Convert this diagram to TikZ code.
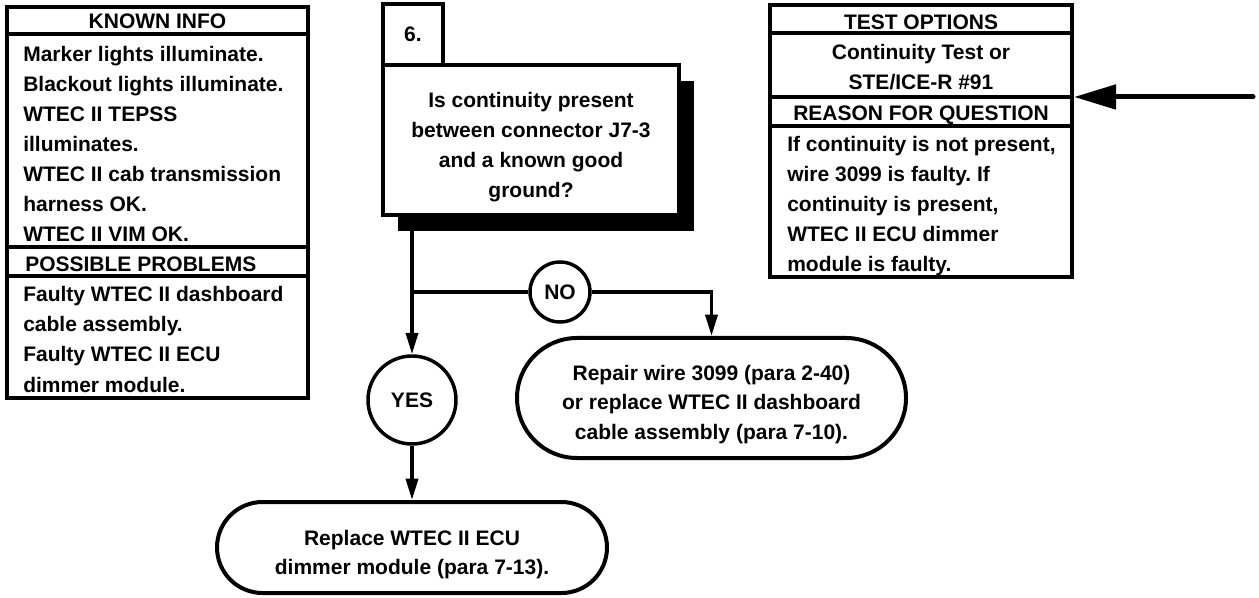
\documentclass[tikz,border=0pt]{standalone}
\usepackage{fontspec}
\setmainfont{Liberation Sans}
\usetikzlibrary{arrows.meta,shapes.misc,shadows}
\frenchspacing
\begin{document}
\begin{tikzpicture}[x=0.75pt,y=-0.75pt,
  every node/.style={font=\bfseries\fontsize{15.75pt}{22.5pt}\selectfont, inner sep=0pt},
  frame/.style={line width=3pt},
  infobox/.style={draw, line width=3pt, rectangle},
  txl/.style={anchor=base west},
  txc/.style={anchor=base},
  flow/.style={line width=2.6pt},
  arr/.style={flow, -{Triangle[length=16pt,width=9pt]}},
  qbox/.style={draw, line width=3pt, fill=white, outer sep=0pt, minimum width=222pt, minimum height=112.5pt,
     drop shadow={shadow xshift=11.25pt, shadow yshift=-12pt, fill=black, opacity=1}},
  numbox/.style={draw, line width=3pt, fill=white, outer sep=0pt, minimum width=45pt, minimum height=45.75pt},
  answer/.style={draw, circle, line width=2.6pt},
  outcome/.style={draw, rounded rectangle, line width=3pt},
  bigarrow/.style={line width=3.75pt, line cap=round, -{Triangle[length=31.5pt,width=18pt]}}
]
\useasboundingbox (0,0) rectangle (1259,598);

% ---------- left info box ----------
\node[infobox, minimum width=225.75pt, minimum height=293.25pt] (kbox) at (157.5,202.5) {};
\draw[frame] (kbox.west |- 0,34) -- (kbox.east |- 0,34);
\draw[frame] (kbox.west |- 0,247) -- (kbox.east |- 0,247);
\draw[frame] (kbox.west |- 0,276) -- (kbox.east |- 0,276);
\node[txc] (khead) at (157.5,29) {KNOWN INFO};
\foreach \t [count=\i] in {{Marker lights illuminate.},{Blackout lights illuminate.},{WTEC II TEPSS},{illuminates.},{WTEC II cab transmission},{harness OK.},{WTEC II VIM OK.}}
  \node[txl] (ki\i) at (23,{62+30*(\i-1)}) {\t};
\node[txl] (phead) at (25,272) {POSSIBLE PROBLEMS};
\foreach \t [count=\i] in {{Faulty WTEC II dashboard},{cable assembly.},{Faulty WTEC II ECU},{dimmer module.}}
  \node[txl] (pp\i) at (23,{302+30*(\i-1)}) {\t};

% ---------- right info box ----------
\node[infobox, minimum width=226.5pt, minimum height=204pt] (rbox) at (921,141) {};
\draw[frame] (rbox.west |- 0,33) -- (rbox.east |- 0,33);
\draw[frame] (rbox.west |- 0,97) -- (rbox.east |- 0,97);
\draw[frame] (rbox.west |- 0,126) -- (rbox.east |- 0,126);
\node[txc] (thead) at (921,30) {TEST OPTIONS};
\node[txc] (to1) at (921,60) {Continuity Test or};
\node[txc] (to2) at (921,90) {STE/ICE-R \#91};
\node[txc] (rhead) at (921,121) {REASON FOR QUESTION};
\foreach \t [count=\i] in {{If continuity is not present,},{wire 3099 is faulty. If},{continuity is present,},{WTEC II ECU dimmer},{module is faulty.}}
  \node[txl] (rq\i) at (787,{152+30*(\i-1)}) {\t};

\coordinate (src) at (1253,97);
\draw[bigarrow] (src) -- (src -| rbox.east);

% ---------- question ----------
\node[qbox] (q) at (531,140) {};
\node[numbox, anchor=south west] (num) at (q.north west) {6.};
\foreach \t [count=\i] in {{Is continuity present},{between connector J7-3},{and a known good},{ground?}}
  \node[txc] (qt\i) at (531,{107.5+30*(\i-1)}) {\t};

% ---------- answers ----------
\node[answer, minimum size=66pt] (yes) at (412,400) {YES};
\node[answer, minimum size=45pt] (no) at (560,292) {NO};

% ---------- outcomes ----------
\node[outcome, minimum width=292.5pt, minimum height=68.25pt] (replace) at (412,547.5) {};
\node[txc] (rp1) at (412,545) {Replace WTEC II ECU};
\node[txc] (rp2) at (412,574) {dimmer module (para 7-13).};

\node[outcome, minimum width=291.75pt, minimum height=90pt] (repair) at (711.5,398) {};
\node[txc] (rw1) at (711.5,380) {Repair wire 3099 (para 2-40)};
\node[txc] (rw2) at (711.5,409.5) {or replace WTEC II dashboard};
\node[txc] (rw3) at (711.5,439) {cable assembly (para 7-10).};

% ---------- connectors ----------
\draw[arr] (yes.north |- q.south) -- (yes.north);
\draw[flow] (yes.north |- no.west) -- (no.west);
\draw[arr] (no.east) -| (repair.north);
\draw[arr] (yes.south) -- (replace.north);
\end{tikzpicture}
\end{document}
